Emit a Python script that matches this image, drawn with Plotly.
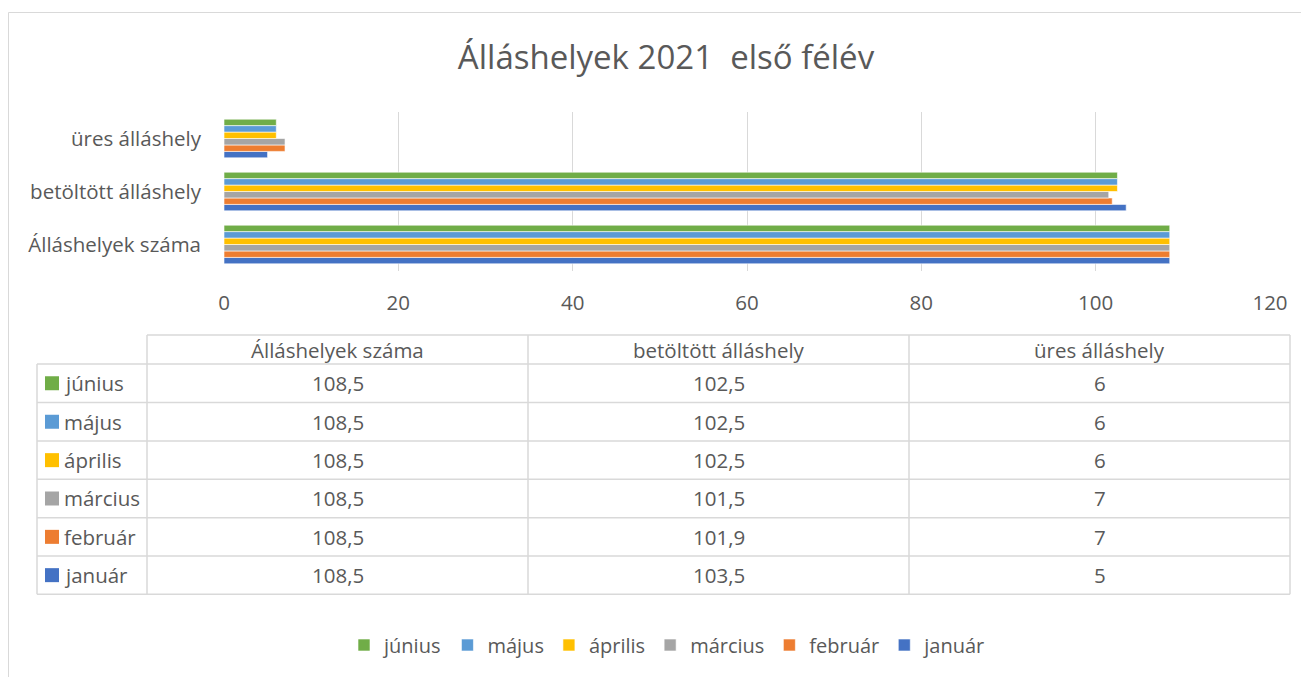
import plotly.graph_objects as go

# ---- data ----
categories = ["Álláshelyek száma", "betöltött álláshely", "üres álláshely"]
months = ["január", "február", "március", "április", "május", "június"]
jan = [108.5, 103.5, 5]
feb = [108.5, 101.9, 7]
mar = [108.5, 101.5, 7]
apr = [108.5, 102.5, 6]
maj = [108.5, 102.5, 6]
jun = [108.5, 102.5, 6]
series_values = [jan, feb, mar, apr, maj, jun]
x_ticks = [0, 20, 40, 60, 80, 100, 120]
title_text = "Álláshelyek 2021  első félév"

# ---- style ----
colors = ["#4472C4", "#ED7D31", "#A5A5A5", "#FFC000", "#5B9BD5", "#70AD47"]
FONT = "Open Sans"
TXT = "#595959"
GRID = "#D9D9D9"
OFF = 8                      # browser body margin
W, H = 1309 - OFF, 677 - OFF
# plot area in page pixels
L, R, T, B = 224, 1270, 112, 271
PW, PH = R - L, B - T
TS = 20.5                    # table / axis font size


def px(x):
    return (x - L) / PW


def py(y):
    return (B - y) / PH


def fmt(v):
    return f"{v:g}".replace(".", ",")


fig = go.Figure()
for name, vals, col in zip(months, series_values, colors):
    fig.add_trace(go.Bar(
        y=categories, x=vals, name=name, orientation="h",
        marker=dict(color=col, line=dict(color="white", width=0.6)),
    ))

shapes = []
annotations = []

# outer chart border
shapes.append(dict(type="rect", xref="paper", yref="paper",
                   x0=px(OFF + 0.5), x1=px(1330), y0=py(700), y1=py(12.5),
                   line=dict(color=GRID, width=1), fillcolor="rgba(0,0,0,0)", layer="below"))

# data table geometry (page pixels)
col_x = [37, 147, 528, 909, 1290]
header_top = 335
row_y = [364, 402.5, 441, 479.3, 517.7, 556, 594.3]
lw = 1.5
shapes.append(dict(type="line", xref="paper", yref="paper",
                   x0=px(col_x[1]), x1=px(col_x[-1]), y0=py(header_top), y1=py(header_top),
                   line=dict(color=GRID, width=lw)))
for yy in row_y:
    shapes.append(dict(type="line", xref="paper", yref="paper",
                       x0=px(col_x[0]), x1=px(col_x[-1]), y0=py(yy), y1=py(yy),
                       line=dict(color=GRID, width=lw)))
shapes.append(dict(type="line", xref="paper", yref="paper",
                   x0=px(col_x[0]), x1=px(col_x[0]), y0=py(row_y[0]), y1=py(row_y[-1]),
                   line=dict(color=GRID, width=lw)))
for xx in col_x[1:]:
    shapes.append(dict(type="line", xref="paper", yref="paper",
                       x0=px(xx), x1=px(xx), y0=py(header_top), y1=py(row_y[-1]),
                       line=dict(color=GRID, width=lw)))

# header texts
for i, cat in enumerate(categories):
    cx = (col_x[i + 1] + col_x[i + 2]) / 2
    annotations.append(dict(xref="paper", yref="paper", x=px(cx), y=py((header_top + row_y[0]) / 2),
                            text=cat, showarrow=False, xanchor="center", yanchor="middle",
                            font=dict(family=FONT, size=TS, color=TXT)))

# rows: június at top down to január
order = list(range(len(months)))[::-1]
for r, si in enumerate(order):
    cy = (row_y[r] + row_y[r + 1]) / 2
    shapes.append(dict(type="rect", xref="paper", yref="paper",
                       x0=px(45), x1=px(59), y0=py(cy + 7), y1=py(cy - 7),
                       fillcolor=colors[si], line=dict(width=0)))
    annotations.append(dict(xref="paper", yref="paper", x=px(62), y=py(cy),
                            text=months[si], showarrow=False, xanchor="left", yanchor="middle",
                            font=dict(family=FONT, size=TS, color=TXT)))
    for c in range(len(categories)):
        cx = (col_x[c + 1] + col_x[c + 2]) / 2
        annotations.append(dict(xref="paper", yref="paper", x=px(cx), y=py(cy),
                                text=fmt(series_values[si][c]), showarrow=False,
                                xanchor="center", yanchor="middle",
                                font=dict(family=FONT, size=TS, color=TXT)))

fig.update_layout(
    width=W, height=H,
    margin=dict(l=L - OFF, r=W - (R - OFF), t=T - OFF, b=H - (B - OFF), pad=0),
    paper_bgcolor="white", plot_bgcolor="white",
    barmode="group", bargap=0.27, bargroupgap=0,
    title=dict(text=title_text, x=px(666), xref="paper", xanchor="center",
               yref="container", y=1 - (57 - OFF) / H, yanchor="middle",
               font=dict(family=FONT, size=33, color=TXT)),
    font=dict(family=FONT, color=TXT),
    xaxis=dict(range=[0, 120], tickvals=x_ticks, showgrid=True, gridcolor=GRID, gridwidth=1.3,
               zeroline=False, showline=False, ticks="", ticklabelstandoff=17,
               tickfont=dict(family=FONT, size=TS, color=TXT), fixedrange=True),
    yaxis=dict(showgrid=False, zeroline=False, showline=False, ticks="", ticklabelstandoff=22,
               tickfont=dict(family=FONT, size=TS, color=TXT)),
    legend=dict(orientation="h", traceorder="reversed", x=px(668), xanchor="center",
                yref="container", y=1 - (645 - OFF) / H, yanchor="middle",
                font=dict(family=FONT, size=20, color=TXT), itemwidth=30),
    shapes=shapes, annotations=annotations,
)

fig.write_html("out.html")
